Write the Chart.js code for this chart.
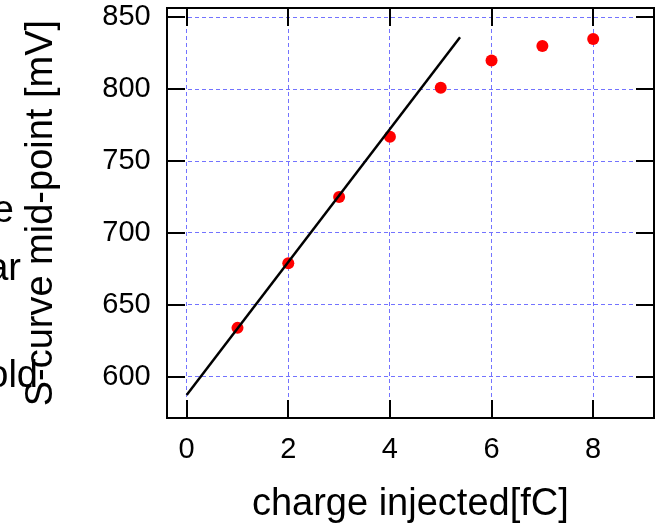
<!DOCTYPE html>
<html>
<head>
<meta charset="utf-8">
<script src="https://cdn.jsdelivr.net/npm/chart.js@4/dist/chart.umd.min.js"></script>
<style>
  html, body { margin: 0; padding: 0; background: #fff; overflow: hidden; }
</style>
</head>
<body>
<canvas id="c" width="660" height="529"></canvas>
<script>
// Measured S-curve mid-points versus injected charge
const chargeFC = [1, 2, 3, 4, 5, 6, 7, 8];
const midpointMV = [634, 679, 725, 767, 801, 820, 830, 835];

// Linear fit over the low-charge region
const fitChargeFC = [0, 5.38];
const fitMidpointMV = [587.3, 836.1];

// Axis ticks
const xTickValues = [0, 2, 4, 6, 8];
const yTickValues = [600, 650, 700, 750, 800, 850];

// Words of the neighbouring text column, running off the left edge
const sideWords = ["of the", "is linear", "threshold"];

const FONT = '"Liberation Sans", Arial, Helvetica, sans-serif';

const points = chargeFC.map((x, i) => ({ x: x, y: midpointMV[i] }));
const fitLine = fitChargeFC.map((x, i) => ({ x: x, y: fitMidpointMV[i] }));

// Closed black frame with inward tick marks on all four sides, plus the side text.
// Everything is snapped to whole pixels so the 2px strokes stay crisp.
const framePlugin = {
  id: 'frameTicks',
  afterDraw(chart) {
    const { ctx, chartArea: a, scales } = chart;
    const sx = scales.x, sy = scales.y;
    const L = 18, W = 2;
    const left = Math.round(a.left), right = Math.round(a.right);
    const top = Math.round(a.top), bottom = Math.round(a.bottom);
    ctx.save();
    ctx.setLineDash([]);
    ctx.globalAlpha = 1;
    ctx.globalCompositeOperation = 'source-over';
    ctx.fillStyle = '#000000';
    xTickValues.forEach(v => {
      const px = Math.round(sx.getPixelForValue(v));
      ctx.fillRect(px - 1, bottom - L, W, L);
      ctx.fillRect(px - 1, top, W, L);
    });
    yTickValues.forEach(v => {
      const py = Math.round(sy.getPixelForValue(v));
      ctx.fillRect(left, py - 1, L, W);
      ctx.fillRect(right - L, py - 1, L, W);
    });
    ctx.fillRect(left - 1, top - 1, right - left + W, W);
    ctx.fillRect(left - 1, bottom - 1, right - left + W, W);
    ctx.fillRect(left - 1, top - 1, W, bottom - top + W);
    ctx.fillRect(right - 1, top - 1, W, bottom - top + W);

    ctx.font = '38px ' + FONT;
    ctx.textAlign = 'right';
    ctx.textBaseline = 'alphabetic';
    ctx.fillText(sideWords[0], 14, 222);
    ctx.fillText(sideWords[1], 21, 280);
    ctx.fillText(sideWords[2], 38, 387);
    ctx.restore();
  }
};

Chart.defaults.color = '#000';
Chart.defaults.font.family = FONT;

new Chart(document.getElementById('c'), {
  type: 'scatter',
  data: {
    datasets: [
      { label: 'fit', data: fitLine, showLine: true, borderColor: '#000', borderWidth: 2.5, pointRadius: 0, fill: false, order: 0 },
      { label: 'mid-point', data: points, backgroundColor: '#ff0000', borderWidth: 0, pointRadius: 6, pointHoverRadius: 6, order: 1 }
    ]
  },
  options: {
    responsive: false,
    animation: false,
    devicePixelRatio: 1,
    layout: { padding: { top: 8, right: 5.8, left: 0, bottom: 0 } },
    plugins: { legend: { display: false }, tooltip: { enabled: false } },
    scales: {
      x: {
        type: 'linear', min: -0.393, max: 9.197,
        afterBuildTicks: s => { s.ticks = xTickValues.map(v => ({ value: v })); },
        afterFit: s => { s.height = 110.7; s.paddingLeft = 0; s.paddingRight = 0; },
        grid: { color: '#7373ff', lineWidth: 1, drawTicks: false },
        border: { display: false, dash: [4, 3] },
        ticks: { font: { size: 29 }, padding: 14.3, maxRotation: 0, autoSkip: false, color: '#000' },
        title: { display: true, text: 'charge injected[fC]', font: { size: 38 }, color: '#000', padding: { top: 0, bottom: 1.4 } }
      },
      y: {
        type: 'linear', min: 571.1, max: 856.5,
        afterBuildTicks: s => { s.ticks = yTickValues.map(v => ({ value: v })); },
        afterFit: s => { s.width = 166.7; s.paddingTop = 0; s.paddingBottom = 0; },
        grid: { color: '#7373ff', lineWidth: 1, drawTicks: false },
        border: { display: false, dash: [4, 3] },
        ticks: { font: { size: 29 }, padding: 16, autoSkip: false, color: '#000' },
        title: { display: true, text: 'S-curve mid-point [mV]', font: { size: 38 }, color: '#000', padding: { top: 19, bottom: 0 } }
      }
    }
  },
  plugins: [framePlugin]
});
</script>
</body>
</html>
